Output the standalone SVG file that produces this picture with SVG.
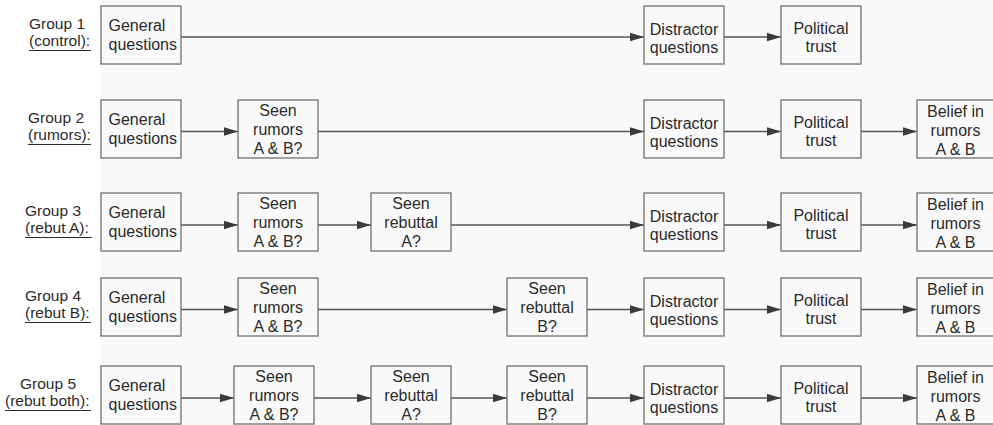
<svg xmlns="http://www.w3.org/2000/svg" width="993" height="425" viewBox="0 0 993 425">
<style>
  .bg{fill:#f9f9f9}
  .box{fill:#f9f9f9;stroke:#707070;stroke-width:1.3}
  text{font-family:"Liberation Sans",Arial,sans-serif;fill:#2b2b2b}
  .t{font-size:16px;text-anchor:middle}
  .tl{font-size:16px;text-anchor:start}
  .lab{font-size:15.5px}
  .ul{stroke:#2b2b2b;stroke-width:1.2}
  .c{stroke:#555;stroke-width:1.3;fill:none;marker-end:url(#ah)}
</style>
<defs>
  <marker id="ah" markerUnits="userSpaceOnUse" markerWidth="15" markerHeight="10" refX="14" refY="4.5" orient="auto">
    <path d="M0,0.3 L14,4.5 L0,8.7 Z" fill="#3a3a3a"/>
  </marker>
</defs>
<rect x="0" y="0" width="993" height="425" fill="#ffffff"/>
<rect class="bg" x="100" y="0" width="893" height="425"/>

<g id="labels">
  <text class="lab" x="29" y="29">Group 1</text>
  <text class="lab" x="29" y="46">(control):</text>
  <line class="ul" x1="29" y1="50.5" x2="91" y2="50.5"/>
  <text class="lab" x="28" y="123">Group 2</text>
  <text class="lab" x="28" y="140">(rumors):</text>
  <line class="ul" x1="28" y1="144.5" x2="91" y2="144.5"/>
  <text class="lab" x="25" y="216">Group 3</text>
  <text class="lab" x="25" y="233">(rebut A):</text>
  <line class="ul" x1="25" y1="237.5" x2="92" y2="237.5"/>
  <text class="lab" x="25" y="301">Group 4</text>
  <text class="lab" x="25" y="318">(rebut B):</text>
  <line class="ul" x1="25" y1="322.5" x2="91" y2="322.5"/>
  <text class="lab" x="20" y="389">Group 5</text>
  <text class="lab" x="5" y="406">(rebut both):</text>
  <line class="ul" x1="5" y1="410.5" x2="91" y2="410.5"/>
</g>

<g id="connectors">
  <line class="c" x1="181" y1="37" x2="644" y2="37"/>
  <line class="c" x1="724" y1="37" x2="781" y2="37"/>

  <line class="c" x1="181" y1="131.5" x2="238" y2="131.5"/>
  <line class="c" x1="318" y1="131.5" x2="644" y2="131.5"/>
  <line class="c" x1="724" y1="131.5" x2="781" y2="131.5"/>
  <line class="c" x1="861" y1="131.5" x2="917" y2="131.5"/>

  <line class="c" x1="181" y1="225" x2="238" y2="225"/>
  <line class="c" x1="318" y1="225" x2="371" y2="225"/>
  <line class="c" x1="451" y1="225" x2="644" y2="225"/>
  <line class="c" x1="724" y1="225" x2="781" y2="225"/>
  <line class="c" x1="861" y1="225" x2="917" y2="225"/>

  <line class="c" x1="181" y1="309.5" x2="238" y2="309.5"/>
  <line class="c" x1="318" y1="309.5" x2="507" y2="309.5"/>
  <line class="c" x1="587" y1="309.5" x2="644" y2="309.5"/>
  <line class="c" x1="724" y1="309.5" x2="781" y2="309.5"/>
  <line class="c" x1="861" y1="309.5" x2="917" y2="309.5"/>

  <line class="c" x1="181" y1="398" x2="234" y2="398"/>
  <line class="c" x1="314" y1="398" x2="371" y2="398"/>
  <line class="c" x1="451" y1="398" x2="507" y2="398"/>
  <line class="c" x1="587" y1="398" x2="644" y2="398"/>
  <line class="c" x1="724" y1="398" x2="781" y2="398"/>
  <line class="c" x1="861" y1="398" x2="917" y2="398"/>
</g>

<!-- Row 1 -->
<g id="g1-general"><rect class="box" x="101" y="6" width="80" height="58"/>
  <text class="tl" x="108.5" y="30.5">General</text><text class="tl" x="108.5" y="49.5">questions</text></g>
<g id="g1-distractor"><rect class="box" x="644" y="6" width="80" height="58"/>
  <text class="t" x="684" y="35">Distractor</text><text class="t" x="684" y="53">questions</text></g>
<g id="g1-trust"><rect class="box" x="781" y="6" width="80" height="58"/>
  <text class="t" x="821" y="34">Political</text><text class="t" x="821" y="52">trust</text></g>

<!-- Row 2 -->
<g id="g2-general"><rect class="box" x="101" y="100" width="80" height="58"/>
  <text class="tl" x="108.5" y="124.5">General</text><text class="tl" x="108.5" y="143.5">questions</text></g>
<g id="g2-rumors"><rect class="box" x="238" y="100" width="80" height="58"/>
  <text class="t" x="278" y="116">Seen</text><text class="t" x="278" y="135">rumors</text><text class="t" x="278" y="154">A &amp; B?</text></g>
<g id="g2-distractor"><rect class="box" x="644" y="100" width="80" height="58"/>
  <text class="t" x="684" y="129">Distractor</text><text class="t" x="684" y="147">questions</text></g>
<g id="g2-trust"><rect class="box" x="781" y="100" width="80" height="58"/>
  <text class="t" x="821" y="128">Political</text><text class="t" x="821" y="146">trust</text></g>
<g id="g2-belief"><rect class="box" x="917" y="100" width="80" height="58"/>
  <text class="t" x="955.5" y="117">Belief in</text><text class="t" x="955.5" y="136">rumors</text><text class="t" x="955.5" y="155">A &amp; B</text></g>

<!-- Row 3 -->
<g id="g3-general"><rect class="box" x="101" y="193" width="80" height="58"/>
  <text class="tl" x="108.5" y="217.5">General</text><text class="tl" x="108.5" y="236.5">questions</text></g>
<g id="g3-rumors"><rect class="box" x="238" y="193" width="80" height="58"/>
  <text class="t" x="278" y="209">Seen</text><text class="t" x="278" y="228">rumors</text><text class="t" x="278" y="247">A &amp; B?</text></g>
<g id="g3-rebutA"><rect class="box" x="371" y="193" width="80" height="58"/>
  <text class="t" x="411" y="209">Seen</text><text class="t" x="411" y="228">rebuttal</text><text class="t" x="411" y="247">A?</text></g>
<g id="g3-distractor"><rect class="box" x="644" y="193" width="80" height="58"/>
  <text class="t" x="684" y="222">Distractor</text><text class="t" x="684" y="240">questions</text></g>
<g id="g3-trust"><rect class="box" x="781" y="193" width="80" height="58"/>
  <text class="t" x="821" y="221">Political</text><text class="t" x="821" y="239">trust</text></g>
<g id="g3-belief"><rect class="box" x="917" y="193" width="80" height="58"/>
  <text class="t" x="955.5" y="210">Belief in</text><text class="t" x="955.5" y="229">rumors</text><text class="t" x="955.5" y="248">A &amp; B</text></g>

<!-- Row 4 -->
<g id="g4-general"><rect class="box" x="101" y="278" width="80" height="58"/>
  <text class="tl" x="108.5" y="302.5">General</text><text class="tl" x="108.5" y="321.5">questions</text></g>
<g id="g4-rumors"><rect class="box" x="238" y="278" width="80" height="58"/>
  <text class="t" x="278" y="294">Seen</text><text class="t" x="278" y="313">rumors</text><text class="t" x="278" y="332">A &amp; B?</text></g>
<g id="g4-rebutB"><rect class="box" x="507" y="278" width="80" height="58"/>
  <text class="t" x="547" y="294">Seen</text><text class="t" x="547" y="313">rebuttal</text><text class="t" x="547" y="332">B?</text></g>
<g id="g4-distractor"><rect class="box" x="644" y="278" width="80" height="58"/>
  <text class="t" x="684" y="307">Distractor</text><text class="t" x="684" y="325">questions</text></g>
<g id="g4-trust"><rect class="box" x="781" y="278" width="80" height="58"/>
  <text class="t" x="821" y="306">Political</text><text class="t" x="821" y="324">trust</text></g>
<g id="g4-belief"><rect class="box" x="917" y="278" width="80" height="58"/>
  <text class="t" x="955.5" y="295">Belief in</text><text class="t" x="955.5" y="314">rumors</text><text class="t" x="955.5" y="333">A &amp; B</text></g>

<!-- Row 5 -->
<g id="g5-general"><rect class="box" x="101" y="366" width="80" height="58"/>
  <text class="tl" x="108.5" y="390.5">General</text><text class="tl" x="108.5" y="409.5">questions</text></g>
<g id="g5-rumors"><rect class="box" x="234" y="366" width="80" height="58"/>
  <text class="t" x="274" y="382">Seen</text><text class="t" x="274" y="401">rumors</text><text class="t" x="274" y="420">A &amp; B?</text></g>
<g id="g5-rebutA"><rect class="box" x="371" y="366" width="80" height="58"/>
  <text class="t" x="411" y="382">Seen</text><text class="t" x="411" y="401">rebuttal</text><text class="t" x="411" y="420">A?</text></g>
<g id="g5-rebutB"><rect class="box" x="507" y="366" width="80" height="58"/>
  <text class="t" x="547" y="382">Seen</text><text class="t" x="547" y="401">rebuttal</text><text class="t" x="547" y="420">B?</text></g>
<g id="g5-distractor"><rect class="box" x="644" y="366" width="80" height="58"/>
  <text class="t" x="684" y="395">Distractor</text><text class="t" x="684" y="413">questions</text></g>
<g id="g5-trust"><rect class="box" x="781" y="366" width="80" height="58"/>
  <text class="t" x="821" y="394">Political</text><text class="t" x="821" y="412">trust</text></g>
<g id="g5-belief"><rect class="box" x="917" y="366" width="80" height="58"/>
  <text class="t" x="955.5" y="383">Belief in</text><text class="t" x="955.5" y="402">rumors</text><text class="t" x="955.5" y="421">A &amp; B</text></g>
</svg>
